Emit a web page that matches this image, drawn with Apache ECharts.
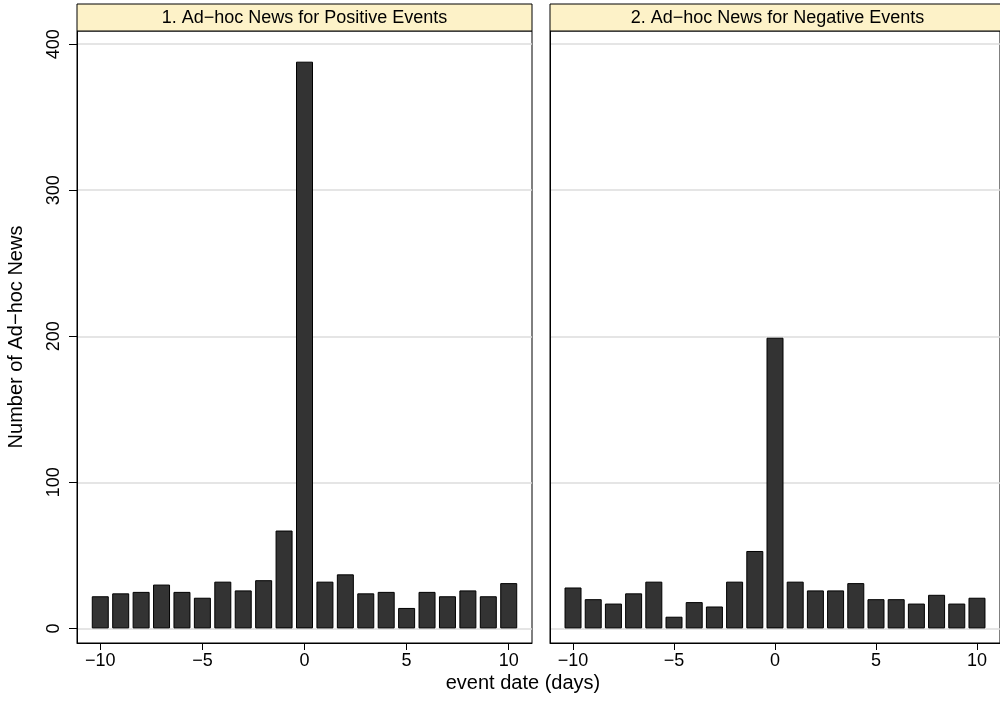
<!DOCTYPE html>
<html><head><meta charset="utf-8">
<script src="https://cdn.jsdelivr.net/npm/echarts@6/dist/echarts.min.js"></script>
<style>html,body{margin:0;padding:0;background:#fff}#c{width:1000px;height:713px}</style>
</head><body><div id="c"></div>
<script>
// ---- data ----
const days = [-10,-9,-8,-7,-6,-5,-4,-3,-2,-1,0,1,2,3,4,5,6,7,8,9,10];
const positiveCounts = [22,24,25,30,25,21,32,26,33,67,388,32,37,24,25,14,25,22,26,22,31];
const negativeCounts = [28,20,17,24,32,8,18,15,32,53,199,32,26,26,31,20,20,17,23,17,21];
const panelTitles = ['1. Ad\u2212hoc News for Positive Events', '2. Ad\u2212hoc News for Negative Events'];
const yTickValues = [0,100,200,300,400];
const xTickValues = [-10,-5,0,5,10];
const yTitle = 'Number of Ad\u2212hoc News';
const xTitle = 'event date (days)';

// ---- layout ----
const FONT = '"Liberation Sans", Arial, Helvetica, sans-serif';
const panels = [{left:77, width:455}, {left:550, width:455}];
const plotTop = 31, plotHeight = 612, stripTop = 4;
const xRange = [-11.14, 11.14];
const yRange = [-10, 409];

const fmt = v => String(v).replace('-', '\u2212');
const seriesData = [positiveCounts, negativeCounts];

const chart = echarts.init(document.getElementById('c'), null, {renderer:'canvas'});

const grid = panels.map(p => ({left:p.left, top:plotTop, width:p.width, height:plotHeight,
  show:true, borderColor:'#000', borderWidth:1, backgroundColor:'rgba(0,0,0,0)', containLabel:false}));

const xAxis = panels.map((p,i) => ({
  type:'value', gridIndex:i, min:xRange[0], max:xRange[1],
  axisLine:{show:true, onZero:false, lineStyle:{color:'#000', width:1}},
  axisTick:{show:true, length:7, customValues:xTickValues, lineStyle:{color:'#000'}},
  axisLabel:{customValues:xTickValues, formatter:fmt, fontSize:18, color:'#000', fontFamily:FONT, margin:9},
  splitLine:{show:false}
}));

const yAxis = panels.map((p,i) => ({
  type:'value', gridIndex:i, min:yRange[0], max:yRange[1],
  axisLine:{show:true, onZero:false, lineStyle:{color:'#000', width:1}},
  axisTick:{show:i===0, length:8, customValues:yTickValues, lineStyle:{color:'#000'}},
  axisLabel:{show:i===0, customValues:yTickValues, rotate:90, fontSize:18, color:'#000', fontFamily:FONT, margin:14},
  splitLine:{show:true, lineStyle:{color:'#dcdcdc', width:1.5}},
  name: i===0 ? yTitle : '', nameLocation:'middle', nameGap:51, nameRotate:90,
  nameTextStyle:{fontSize:20, color:'#000', fontFamily:FONT}
}));

const series = seriesData.map((vals,i) => ({
  type:'bar', xAxisIndex:i, yAxisIndex:i, barWidth:17,
  data: days.map((d,k) => [d, vals[k]]),
  itemStyle:{color:'#333333', borderColor:'#000', borderWidth:1},
  emphasis:{disabled:true}, animation:false
}));

const graphic = [];
panels.forEach((p,i) => {
  graphic.push({type:'rect', shape:{x:p.left, y:stripTop, width:p.width, height:plotTop-stripTop},
    style:{fill:'#FDF2C8', stroke:'#000', lineWidth:1}, z:10});
  graphic.push({type:'text', x:p.left + p.width/2, y:(stripTop+plotTop)/2 + 1,
    style:{text:panelTitles[i], fill:'#000', font:'18px ' + FONT, align:'center', verticalAlign:'middle'}, z:11});
});
graphic.push({type:'text', x:523, y:683, style:{text:xTitle, fill:'#000', font:'20px ' + FONT, align:'center', verticalAlign:'middle'}});

chart.setOption({animation:false, grid, xAxis, yAxis, series, graphic});
</script></body></html>
